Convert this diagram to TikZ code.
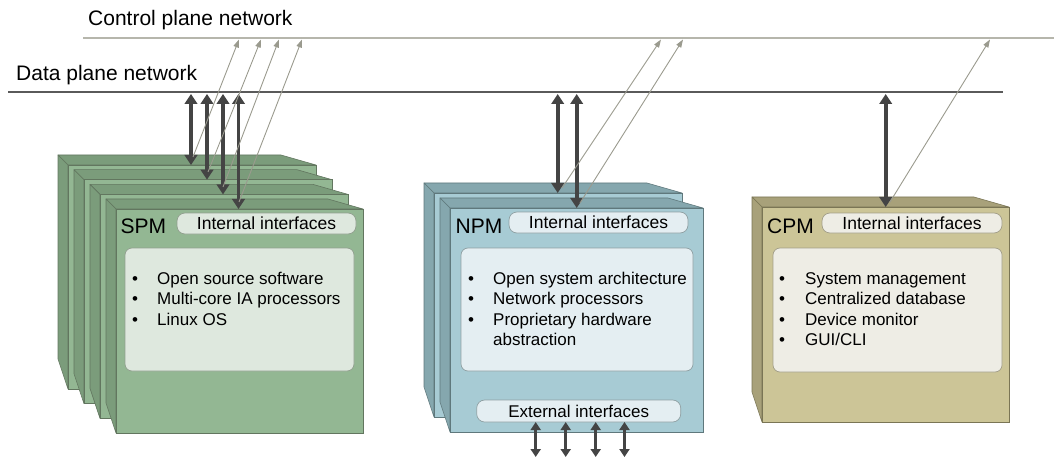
\documentclass[tikz,border=0pt]{standalone}
\usepackage{fontspec}
\setmainfont{Liberation Sans}
\usetikzlibrary{arrows.meta}

% module colours: front face, side faces, edges, inner panels
\definecolor{spmfront}{HTML}{93B793}
\definecolor{spmside}{HTML}{7B9C7B}
\definecolor{spmedge}{HTML}{62765F}
\definecolor{spmpanel}{HTML}{DEE8DE}
\definecolor{npmfront}{HTML}{A7CBD4}
\definecolor{npmside}{HTML}{85A7AE}
\definecolor{npmedge}{HTML}{5F787C}
\definecolor{npmpanel}{HTML}{E4EEF2}
\definecolor{cpmfront}{HTML}{CCC597}
\definecolor{cpmside}{HTML}{A8A17A}
\definecolor{cpmedge}{HTML}{7A7555}
\definecolor{cpmpanel}{HTML}{EEEDE5}
\definecolor{busgray}{HTML}{444444}
\definecolor{dataline}{HTML}{5A5A5A}
\definecolor{ctlline}{HTML}{B6B6AC}
\definecolor{ctlarrow}{HTML}{9A9A8E}

% a module drawn as a box: left, top, width, height, front, side, edge colour
\newcommand\modbox[7]{%
  \filldraw[fill=#6,draw=#7,line width=0.6pt,line join=round]
    ({#1-10},{#2-10}) -- ({#1+#3-35},{#2-10}) -- ({#1+#3},#2) -- (#1,#2) -- cycle;
  \filldraw[fill=#6,draw=#7,line width=0.6pt,line join=round]
    ({#1-10},{#2-10}) -- (#1,#2) -- (#1,{#2+#4}) -- ({#1-10},{#2+#4-30}) -- cycle;
  \filldraw[fill=#5,draw=#7,line width=0.6pt]
    (#1,#2) rectangle ({#1+#3},{#2+#4});
}

\begin{document}
\begin{tikzpicture}[x=1pt,y=-1pt,
  ifbox/.style={rounded corners=8pt,inner sep=0pt,line width=0.7pt,
    minimum height=21pt,font=\fontsize{17.5}{20}\selectfont},
  listbox/.style={rounded corners=7pt,inner sep=0pt,line width=0.7pt},
  modlabel/.style={anchor=base west,inner sep=0pt,font=\fontsize{21}{24}\selectfont},
  netlabel/.style={anchor=base west,inner sep=0pt,font=\fontsize{21}{24}\selectfont},
  item/.style={anchor=base west,inner sep=0pt,font=\fontsize{17}{20}\selectfont},
  busarrow/.style={draw=busgray,line width=3.7pt,
    {Triangle[length=10pt,width=12.5pt]}-{Triangle[length=10pt,width=12.5pt]}},
  extarrow/.style={draw=busgray,line width=3pt,
    {Triangle[length=8pt,width=10pt]}-{Triangle[length=8pt,width=10pt]}},
  ctlarrowstyle/.style={draw=ctlarrow,line width=0.9pt,
    -{Triangle[length=8pt,width=5.5pt]}},
]
\useasboundingbox (0,0) rectangle (1054,457);

% network lines
\coordinate (cpL) at (83,38);
\coordinate (cpR) at (1054,38);
\coordinate (dpL) at (8,92);
\coordinate (dpR) at (1003,92);
\draw[ctlline,line width=1.1pt] (cpL) -- (cpR);
\draw[dataline,line width=2.8pt] (dpL) -- (dpR);
\node[netlabel] (cpname) at (88,26) {Control plane network};
\node[netlabel] (dpname) at (16,81) {Data plane network};

% SPM stack, back to front
\modbox{68}{165}{248}{224}{spmfront}{spmside}{spmedge}
\modbox{84}{179.7}{248}{224}{spmfront}{spmside}{spmedge}
\modbox{100}{194.4}{248}{224}{spmfront}{spmside}{spmedge}
\modbox{116}{209}{247}{224}{spmfront}{spmside}{spmedge}

% NPM pair
\modbox{434}{193}{248}{224}{npmfront}{npmside}{npmedge}
\modbox{450}{208}{253}{224}{npmfront}{npmside}{npmedge}

% CPM
\modbox{762}{207}{247}{215}{cpmfront}{cpmside}{cpmedge}

% module names
\node[modlabel] (spm) at (120.5,233.3) {SPM};
\node[modlabel] (npm) at (455.5,233.3) {NPM};
\node[modlabel] (cpm) at (767,233.3) {CPM};

% interface bars
\node[ifbox,fill=spmpanel,draw=spmedge!70,minimum width=179pt] (spmif) at (266.5,223.5) {Internal interfaces};
\node[ifbox,fill=npmpanel,draw=npmedge!70,minimum width=179pt] (npmif) at (598.5,222.5) {Internal interfaces};
\node[ifbox,fill=cpmpanel,draw=cpmedge!70,minimum width=180pt,minimum height=20pt] (cpmif) at (912,223) {Internal interfaces};
\node[ifbox,fill=npmpanel,draw=npmedge!70,minimum width=204pt,minimum height=22pt,
  font=\fontsize{17}{20}\selectfont] (npmext) at (578.7,411) {External interfaces};

% feature panels
\node[listbox,fill=spmpanel,draw=spmedge!70,minimum width=229pt,minimum height=123pt] (spmlist) at (239.5,309.5) {};
\node[listbox,fill=npmpanel,draw=npmedge!70,minimum width=232pt,minimum height=123pt] (npmlist) at (577,309.5) {};
\node[listbox,fill=cpmpanel,draw=cpmedge!70,minimum width=229pt,minimum height=124pt] (cpmlist) at (887.5,310) {};

\node[item] (spm1) at (132,284) {\makebox[25pt][l]{\textbullet}Open source software};
\node[item] (spm2) at (132,304.5) {\makebox[25pt][l]{\textbullet}Multi-core IA processors};
\node[item] (spm3) at (132,325) {\makebox[25pt][l]{\textbullet}Linux OS};

\node[item] (npm1) at (468,284) {\makebox[25pt][l]{\textbullet}Open system architecture};
\node[item] (npm2) at (468,304.5) {\makebox[25pt][l]{\textbullet}Network processors};
\node[item] (npm3) at (468,325) {\makebox[25pt][l]{\textbullet}Proprietary hardware};
\node[item] (npm4) at (493,345.5) {abstraction};

\node[item] (cpm1) at (779,284) {\makebox[26pt][l]{\textbullet}System management};
\node[item] (cpm2) at (779,304.5) {\makebox[26pt][l]{\textbullet}Centralized database};
\node[item] (cpm3) at (779,325) {\makebox[26pt][l]{\textbullet}Device monitor};
\node[item] (cpm4) at (779,345.5) {\makebox[26pt][l]{\textbullet}GUI/CLI};

% data plane attachment points
\coordinate (dpbot) at (0,94);
\coordinate (sa) at (191,165);
\coordinate (sb) at (207,179.7);
\coordinate (sc) at (223,194.4);
\coordinate (sd) at (238.5,209);
\coordinate (na) at (557.7,193);
\coordinate (nb) at (576.7,208);
\coordinate (ca) at (885.7,207);

\draw[busarrow] (sa |- dpbot) -- (sa);
\draw[busarrow] (sb |- dpbot) -- (sb);
\draw[busarrow] (sc |- dpbot) -- (sc);
\draw[busarrow] (sd |- dpbot) -- (sd);
\draw[busarrow] (na |- dpbot) -- (na);
\draw[busarrow] (nb |- dpbot) -- (nb);
\draw[busarrow] (ca |- dpbot) -- (ca);

% control plane links
\coordinate (csa) at (193,157);   \coordinate (cta) at (239,39.5);
\coordinate (csb) at (208,172);   \coordinate (ctb) at (261,39.5);
\coordinate (csc) at (223,187);   \coordinate (ctc) at (279,39.5);
\coordinate (csd) at (239,202);   \coordinate (ctd) at (302,39.5);
\coordinate (cna) at (562,188);   \coordinate (ctna) at (661,39.5);
\coordinate (cnb) at (580,203);   \coordinate (ctnb) at (683,39.5);
\coordinate (cca) at (890,202);   \coordinate (ctca) at (990,39.5);

\draw[ctlarrowstyle] (csa) -- (cta);
\draw[ctlarrowstyle] (csb) -- (ctb);
\draw[ctlarrowstyle] (csc) -- (ctc);
\draw[ctlarrowstyle] (csd) -- (ctd);
\draw[ctlarrowstyle] (cna) -- (ctna);
\draw[ctlarrowstyle] (cnb) -- (ctnb);
\draw[ctlarrowstyle] (cca) -- (ctca);

% external links below the NPM
\coordinate (bot) at (0,457);
\foreach \ex [count=\i] in {535.7,565.7,595.7,624.5}{
  \coordinate (ext\i) at (\ex,422);
  \draw[extarrow] (ext\i) -- (ext\i |- bot);
}
\end{tikzpicture}
\end{document}
